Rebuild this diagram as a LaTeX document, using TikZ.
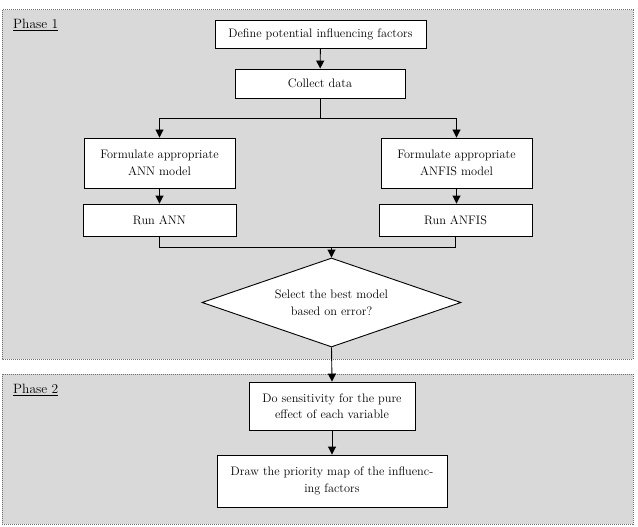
\documentclass[tikz,border=0pt]{standalone}
\usepackage{tikz}
\usetikzlibrary{shapes.geometric,arrows.meta}
\definecolor{phasegray}{HTML}{D9D9D9}
\definecolor{phaseedge}{HTML}{6F6F6F}
\begin{document}
\begin{tikzpicture}[x=1pt,y=-1pt,
  phase/.style={draw=phaseedge,densely dotted,line width=1pt,fill=phasegray},
  procbox/.style={draw,line width=0.9pt,fill=white,align=center,inner sep=2pt,
    font=\fontsize{12.3}{16.5}\selectfont},
  decbox/.style={draw,diamond,line width=0.9pt,fill=white,align=center,inner sep=0pt,
    aspect=2.9,minimum width=259pt,minimum height=89pt,
    font=\fontsize{12.3}{16.5}\selectfont},
  flow/.style={line width=0.9pt,-{Triangle[length=8pt,width=8pt]}},
  plain/.style={line width=0.9pt},
  lbl/.style={font=\fontsize{13.5}{15}\selectfont,anchor=west,inner sep=0pt}]
\useasboundingbox (0,0) rectangle (638,527);
\fill[white] (0,0) rectangle (638,527);
\draw[phase] (2,10) rectangle (633,359);
\draw[phase] (2,374) rectangle (633,524);
\node[lbl] (p1) at (13,25) {\underline{Phase 1}};
\node[lbl] (p2) at (13,390) {\underline{Phase 2}};

\node[procbox,minimum width=211pt,minimum height=28pt] (define) at (320.5,34) {Define potential influencing factors};
\node[procbox,minimum width=170pt,minimum height=29pt] (collect) at (320,83.5) {Collect data};
\node[procbox,minimum width=151pt,minimum height=50pt] (fann) at (159.5,163) {Formulate appropriate\\ANN model};
\node[procbox,minimum width=151pt,minimum height=50pt] (fanfis) at (456.5,163) {Formulate appropriate\\ANFIS model};
\node[procbox,minimum width=153pt,minimum height=32pt] (rann) at (159.5,220) {Run ANN};
\node[procbox,minimum width=153pt,minimum height=32pt] (ranfis) at (455.5,220) {Run ANFIS};
\node[decbox] (select) at (331.5,302.5) {Select the best model\\based on error?};
\node[procbox,minimum width=166pt,minimum height=48pt] (sens) at (332,406) {Do sensitivity for the pure\\effect of each variable};
\node[procbox,minimum width=230pt,minimum height=52pt] (map) at (332,481) {Draw the priority map of the influenc-\\ing factors};

\coordinate (split) at (320,118);
\coordinate (join) at (331.5,247);

\draw[flow] (define) -- (collect);
\draw[plain] (collect) -- (split);
\draw[flow] (split) -| (fann.north);
\draw[flow] (split) -| (fanfis.north);
\draw[flow] (fann) -- (rann);
\draw[flow] (fanfis.south) -- (fanfis.south |- ranfis.north);
\draw[plain] (rann.south) |- (join);
\draw[plain] (ranfis.south) |- (join);
\draw[flow] (join) -- (select.north);
\draw[flow] (select.south) -- (sens.north);
\draw[flow] (sens) -- (map);
\end{tikzpicture}
\end{document}
